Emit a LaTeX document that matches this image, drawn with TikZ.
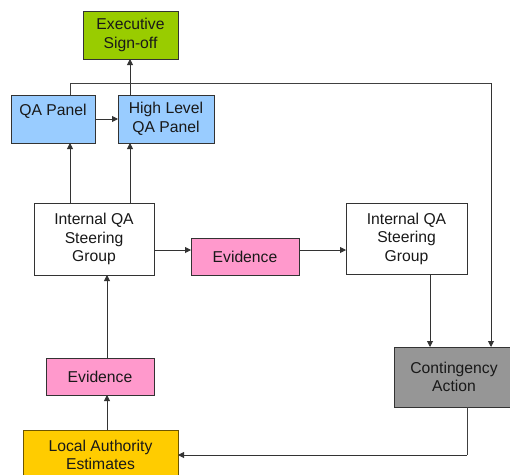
\documentclass[tikz,border=0pt]{standalone}
\usepackage{fontspec}
\setmainfont{Liberation Sans}
\usetikzlibrary{calc, positioning, arrows.meta}

\begin{document}
\begin{tikzpicture}[
            x=1pt, y=-1pt, % one unit per pixel, y going down
            box_style/.style={rectangle, draw=black!80, line width=0.9pt, inner sep=0pt, outer sep=0pt, align=center, text=black!90, font=\fontsize{15.7}{18.5}\selectfont},
            sign_off/.style={box_style, fill={rgb,255:red,153;green,204;blue,0}},
            panel/.style={box_style, fill={rgb,255:red,153;green,204;blue,255}},
            steering/.style={box_style, fill=white},
            evidence/.style={box_style, fill={rgb,255:red,255;green,153;blue,204}},
            contingency/.style={box_style, fill={rgb,255:red,150;green,150;blue,150}},
            estimates/.style={box_style, draw={rgb,255:red,110;green,85;blue,0}, fill={rgb,255:red,255;green,204;blue,0}},
            edge_style/.style={-{Triangle[length=6pt, width=6pt]}, line width=0.9pt, black!80},
            line_style/.style={line width=0.9pt, black!75}
        ]

        \useasboundingbox (0,0) rectangle (510,474);

        % Top of the chain
        \node[sign_off, minimum width=95pt, minimum height=48pt] (exec) at (130.5,35) {Executive\\Sign-off};
        \node[panel, minimum width=84pt, minimum height=48pt] (qap) at (53,119) {QA Panel\\\mbox{}};
        \node[panel, minimum width=96pt, minimum height=48pt] (hlqap) at (166,119) {High Level\\QA Panel};

        % Steering groups and evidence
        \node[steering, minimum width=120pt, minimum height=72pt] (iqa1) at (94,239) {Internal QA\\Steering\\Group};
        \node[evidence, minimum width=108pt, minimum height=37pt] (ev1) at (245,256.5) {Evidence};
        \node[steering, minimum width=121pt, minimum height=71pt] (iqa2) at (406.5,238.5) {Internal QA\\Steering\\Group};

        % Bottom of the chain
        \node[contingency, minimum width=120pt, minimum height=60pt] (cont) at (454,377) {Contingency\\Action};
        \node[evidence, minimum width=108pt, minimum height=37pt] (ev2) at (100,376.5) {Evidence};
        \node[estimates, minimum width=155pt, minimum height=50pt] (lae) at (100.5,455) {Local Authority\\Estimates};

        % x positions of the vertical connectors
        \coordinate (xqa) at (70,83);
        \coordinate (xhl) at (130,0);
        \coordinate (xle) at (107,0);
        \coordinate (xri) at (491,83);
        \coordinate (xst) at (430,0);
        \coordinate (xco) at (467,455);
        \coordinate (yev) at (0,250);

        % Panels up to sign-off
        \draw[edge_style] (qap.east) -- (hlqap.west);
        \draw[edge_style] (xhl |- hlqap.north) -- (xhl |- exec.south);

        % Steering group up to the panels
        \draw[edge_style] (xqa |- iqa1.north) -- (xqa |- qap.south);
        \draw[edge_style] (xhl |- iqa1.north) -- (xhl |- hlqap.south);

        % Across through the evidence
        \draw[edge_style] (iqa1.east |- yev) -- (ev1.west |- yev);
        \draw[edge_style] (ev1.east |- yev) -- (iqa2.west |- yev);
        \draw[edge_style] (xst |- iqa2.south) -- (xst |- cont.north);

        % Loop from the QA panel round to contingency
        \draw[line_style] (xqa |- qap.north) -- (xqa) -- (xri);
        \draw[edge_style] (xri) -- (xri |- cont.north);

        % Contingency back to the estimates
        \draw[line_style] (cont.south -| xco) -- (xco);
        \draw[edge_style] (xco) -- (lae.east);

        % Estimates up through the evidence
        \foreach \u/\v in {lae/ev2, ev2/iqa1} {
                \draw[edge_style] (xle |- \u.north) -- (xle |- \v.south);
            }

    \end{tikzpicture}
\end{document}
